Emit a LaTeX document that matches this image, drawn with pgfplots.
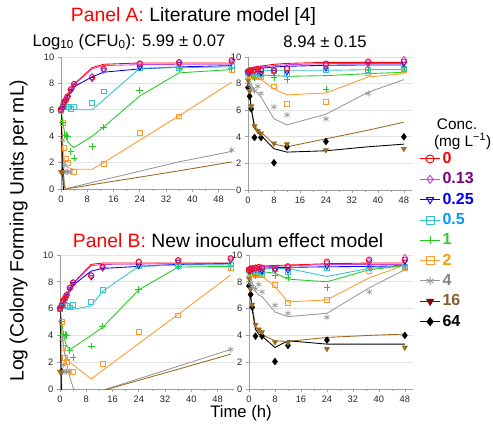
\documentclass[border=0pt]{standalone}
\usepackage{fontspec}
\setmainfont{Liberation Sans}
\setsansfont{Liberation Sans}
\usepackage{pgfplots}
\usepackage{pgfplotstable}
\pgfplotsset{compat=1.18}

\definecolor{c0}{HTML}{FF0000}
\definecolor{c013}{HTML}{CC44DD}
\definecolor{t013}{HTML}{800080}
\definecolor{c025}{HTML}{0000FF}
\definecolor{c05}{HTML}{33C4CC}
\definecolor{t05}{HTML}{0099FF}
\definecolor{c1}{HTML}{22CC22}
\definecolor{t1}{HTML}{33CC33}
\definecolor{c2}{HTML}{FF9A2E}
\definecolor{t2}{HTML}{FF9900}
\definecolor{c4}{HTML}{999999}
\definecolor{t4}{HTML}{808080}
\definecolor{c16}{HTML}{9C6A1E}
\definecolor{l16}{HTML}{7A0A0A}
\definecolor{t16}{HTML}{8B5A2B}
\definecolor{c64}{HTML}{000000}

% observed counts, inoculum 6 log
\pgfplotstableread{
t    c0   c013 c025 c05  c1   c2   c4   c16  c64
0    6.0  6.05 6.0  6.0  6.0  5.95 nan  1.3  nan
0.5  6.2  6.25 6.15 6.3  5.05 5.0  3.7  1.3  1.3
1    6.6  6.6  6.55 6.3  4.1  3.1  1.8  nan  nan
1.5  6.75 6.8  6.7  6.25 4.05 2.3  1.3  nan  nan
2    7.0  7.0  6.95 6.2  4.0  2.0  1.3  nan  nan
3    7.55 7.5  7.45 6.1  2.85 nan  1.3  nan  nan
4    7.95 7.9  7.85 6.25 2.35 1.3  nan  nan  nan
9.5  8.45 8.5  8.35 6.5  3.2  nan  nan  nan  nan
13   9.1  9.05 9.0  7.4  4.7  1.9  nan  nan  nan
24   9.5  9.45 9.2  9.15 7.45 4.25 nan  nan  nan
36   9.6  9.55 9.5  9.15 9.15 5.5  nan  nan  nan
52   9.75 9.7  9.6  9.3  9.15 9.05 2.95 nan  nan
}\obsL

% observed counts, inoculum 9 log
\pgfplotstableread{
t    c0   c013 c025 c05  c1   c2   c4   c16  c64
0    8.9  8.9  8.8  8.85 8.75 8.9  8.5  8.25 7.7
0.5  8.95 8.95 8.85 8.9  8.7  8.7  7.9  7.45 7.05
1    9.0  8.95 8.9  8.9  8.65 8.55 7.6  6.3  6.1
2    9.05 9.0  8.95 8.8  8.45 8.5  7.45 4.8  3.95
3    9.1  9.05 8.95 8.85 8.7  8.6  7.8  4.45 nan
4    9.05 9.0  8.8  8.7  8.6  8.5  7.25 4.25 3.95
8    9.0  8.95 8.9  8.95 8.45 7.8  6.25 3.5  2.05
12   9.15 9.1  8.85 8.7  8.3  6.45 5.65 3.45 3.25
24   9.5  9.4  9.15 9.0  7.6  6.65 5.35 3.0  3.65
37   9.65 9.55 9.45 9.05 9.05 8.8  7.25 nan  nan
48   9.65 9.8  9.5  9.1  9.2  9.05 9.05 3.1  4.0
}\obsR

% Panel A model, inoculum 6 log
\pgfplotstableread{
t    c0   c013 c025 c05  c1   c2   c4    c16   c64
0    6.0  6.0  6.0  6.0  6.0  6.0  6.0   6.0   6.0
0.5  6.3  6.28 6.25 6.1  5.2  3.5  2.5   2.0   1.0
1    6.6  6.55 6.5  6.1  4.4  2.2  0.4   0.2   -1
1.5  6.9  6.85 6.8  6.05 3.9  1.8  -0.1  -0.2  -1
2    7.15 7.1  7.0  6.0  3.6  1.65 0.05  0.03  -1
3    7.55 7.5  7.35 6.0  3.3  1.55 0.11  0.07  -1
4    7.95 7.9  7.75 6.0  3.15 1.5  0.17  0.1   -1
9.5  9.2  9.1  8.5  6.0  4.0  1.5  0.5   0.33  -1
13   9.45 9.35 8.85 6.76 4.7  2.0  0.7   0.47  -1
24   9.55 9.42 9.1  9.15 7.05 3.7  1.35  0.9   -1
36   9.55 9.45 9.25 9.2  8.8  5.55 2.06  1.38  -1
52   9.55 9.45 9.35 9.25 9.05 8.1  2.85  2.05  -1
}\modAL

% Panel A model, inoculum 9 log
\pgfplotstableread{
t    c0   c013 c025 c05  c1   c2   c4   c16  c64
0    8.95 8.95 8.95 8.95 8.95 8.95 8.95 8.95 8.95
0.5  9.05 9.0  8.98 8.95 8.9  8.85 8.4  7.3  7.2
1    9.1  9.05 9.0  8.95 8.85 8.75 7.9  6.2  6.1
2    9.2  9.12 9.05 8.95 8.75 8.55 7.5  4.85 4.7
3    9.28 9.2  9.1  8.95 8.7  8.4  7.25 4.55 4.3
4    9.32 9.25 9.15 8.95 8.65 8.3  7.0  4.35 4.1
8    9.45 9.35 9.25 9.0  8.6  7.6  5.35 3.45 3.1
12   9.52 9.42 9.3  9.0  8.55 7.15 4.9  3.25 2.85
24   9.6  9.5  9.38 9.0  8.6  7.3  5.7  3.85 2.95
37   9.6  9.5  9.4  9.05 8.75 8.5  7.35 4.5  3.25
48   9.6  9.5  9.4  9.05 8.85 8.75 8.3  5.1  3.45
}\modAR

% Panel B model, inoculum 6 log
\pgfplotstableread{
t    c0   c013 c025 c05  c1   c2   c4   c16   c64
0    6.0  6.0  6.0  6.0  6.0  6.0  6.0  6.0   6.0
0.5  6.25 6.25 6.2  6.1  5.0  4.5  4.3  0.2   -1
1    6.5  6.5  6.45 6.1  4.2  3.3  3.3  -2    -1
1.5  6.8  6.75 6.7  6.05 3.6  2.65 2.5 -2    -1
2    7.05 7.0  6.95 6.0  3.2  2.3  1.9  -2    -1
3    7.5  7.45 7.35 6.0  2.95 2.0  0.9  -2    -1
4    7.9  7.85 7.75 5.95 3.1  1.8  0.1  -2    -1
9.5  9.3  9.2  8.8  6.2  4.0  0.75 -2   -2    -1
13   9.4  9.3  9.0  7.3  4.6  1.39 -0.09 -0.12 -1
24   9.4  9.32 9.15 9.15 7.4  3.4  0.77 0.65  -1
36   9.4  9.35 9.3  9.25 9.1  5.57 1.7  1.48  -1
52   9.4  9.35 9.35 9.25 9.15 8.5  2.95 2.6   -1
}\modBL

% Panel B model, inoculum 9 log
\pgfplotstableread{
t    c0   c013 c025 c05  c1   c2   c4   c16  c64
0    8.95 8.95 8.95 8.95 8.95 8.95 8.95 8.95 8.95
0.5  9.0  8.98 8.95 8.95 8.93 8.85 8.4  7.0  6.8
1    9.05 9.0  8.95 8.95 8.9  8.7  7.9  6.2  5.9
2    9.1  9.05 9.0  8.95 8.85 8.5  7.3  4.7  4.45
3    9.15 9.1  9.0  8.95 8.8  8.45 7.0  4.3  4.1
4    9.18 9.12 9.02 8.95 8.75 8.4  6.9  4.05 3.95
8    9.22 9.15 9.05 8.98 8.65 7.65 5.75 3.6  3.1
12   9.25 9.2  9.08 9.0  8.2  6.5  5.4  3.55 3.6
24   9.35 9.28 9.12 8.4  8.0  6.65 5.65 3.85 3.35
37   9.4  9.3  9.15 9.0  8.9  8.3  7.55 4.0  3.35
48   9.4  9.3  9.2  9.2  9.2  9.25 8.9  4.1  3.35
}\modBR

\pgfplotsset{
  panel/.style={
    scale only axis, anchor=south west,
    xmin=0, ymin=0, ymax=10,
    axis x line*=bottom, axis y line*=left,
    axis line style={gray!75, line width=0.7pt},
    xtick={0,8,...,48}, ytick={0,2,...,10},
    minor x tick num=1, tick align=outside,
    tick style={gray!75, line width=0.5pt},
    major tick length=2.5pt, minor tick length=1.6pt,
    ymajorgrids, major grid style={gray!22, line width=0.6pt},
    tick label style={font=\fontsize{7}{8}\selectfont, text=black!85},
    /pgf/number format/assume math mode=true,
    xticklabel style={yshift=1pt}, yticklabel style={xshift=1pt},
    clip mode=individual,
  },
  mod/.style={no markers, line width=0.65pt, forget plot},
  obs/.style={only marks, forget plot, mark size=2.1pt, line width=0.55pt},
  s0/.style={color=c0, mark=o},
  s013/.style={color=c013, mark=diamond, mark size=2.6pt},
  s025/.style={color=c025, mark=triangle, mark options={rotate=180}},
  s05/.style={color=c05, mark=square, mark size=1.8pt},
  s1/.style={color=c1, mark=+, mark size=2.5pt},
  s2/.style={color=c2, mark=square, mark size=1.8pt},
  s4/.style={color=c4, mark=asterisk, mark size=2.3pt},
  s16/.style={color=c16, mark=triangle*, mark options={rotate=180}},
  s64/.style={color=c64, mark=diamond*, mark size=2.4pt},
}

\newcommand{\drawpanel}[2]{%
  \addplot[mod, c0]   table[x=t, y=c0]   {#1};
  \addplot[mod, c013] table[x=t, y=c013] {#1};
  \addplot[mod, c025] table[x=t, y=c025] {#1};
  \addplot[mod, c05]  table[x=t, y=c05]  {#1};
  \addplot[mod, c1]   table[x=t, y=c1]   {#1};
  \addplot[mod, c2]   table[x=t, y=c2]   {#1};
  \addplot[mod, c4]   table[x=t, y=c4]   {#1};
  \addplot[mod, c16]  table[x=t, y=c16]  {#1};
  \addplot[mod, c64]  table[x=t, y=c64]  {#1};
  \addplot[obs, s64]  table[x=t, y=c64]  {#2};
  \addplot[obs, s16]  table[x=t, y=c16]  {#2};
  \addplot[obs, s4]   table[x=t, y=c4]   {#2};
  \addplot[obs, s2]   table[x=t, y=c2]   {#2};
  \addplot[obs, s1]   table[x=t, y=c1]   {#2};
  \addplot[obs, s05]  table[x=t, y=c05]  {#2};
  \addplot[obs, s025] table[x=t, y=c025] {#2};
  \addplot[obs, s013] table[x=t, y=c013] {#2};
  \addplot[obs, s0]   table[x=t, y=c0]   {#2};
}

\begin{document}
\begin{tikzpicture}
\path[use as bounding box] (0,0) rectangle (369.75pt,-319.5pt);

% Panel A, inoculum 6
\begin{axis}[panel, at={(45.75pt,-141.75pt)}, width=130.5pt, height=99pt, xmax=53]
  \drawpanel{\modAL}{\obsL}
\end{axis}

% Panel A, inoculum 9 (carries the legend)
\begin{axis}[panel, at={(186pt,-142.5pt)}, width=123pt, height=99.75pt, xmax=50.5,
  legend style={draw=none, fill=none, at={(1.045,0.30)}, anchor=north west,
    font=\fontsize{12}{12}\selectfont\bfseries, row sep=2.4pt,
    inner sep=0pt, nodes={inner sep=1.5pt}},
  legend cell align=left,
  legend image code/.code={\draw[mark repeat=2, mark phase=2, line width=0.7pt, mark size=3pt]
    plot coordinates {(0pt,0pt) (7.5pt,0pt) (15pt,0pt)};}]
  \addlegendimage{s0}   \addlegendentry{\textcolor{c0}{0}}
  \addlegendimage{s013} \addlegendentry{\textcolor{t013}{0.13}}
  \addlegendimage{s025} \addlegendentry{\textcolor{c025}{0.25}}
  \addlegendimage{s05}  \addlegendentry{\textcolor{t05}{0.5}}
  \addlegendimage{s1}   \addlegendentry{\textcolor{t1}{1}}
  \addlegendimage{s2}   \addlegendentry{\textcolor{t2}{2}}
  \addlegendimage{s4}   \addlegendentry{\textcolor{t4}{4}}
  \addlegendimage{s16, color=l16} \addlegendentry{\textcolor{t16}{16}}
  \addlegendimage{s64}  \addlegendentry{\textcolor{c64}{64}}
  \drawpanel{\modAR}{\obsR}
\end{axis}

% Panel B, inoculum 6
\begin{axis}[panel, at={(45pt,-291.75pt)}, width=130.5pt, height=100.5pt, xmax=53]
  \drawpanel{\modBL}{\obsL}
\end{axis}

% Panel B, inoculum 9
\begin{axis}[panel, at={(186.75pt,-291.75pt)}, width=123pt, height=100.5pt, xmax=50.5]
  \drawpanel{\modBR}{\obsR}
\end{axis}

\node[font=\fontsize{14.5}{16}\selectfont] at (145.1pt,-12pt)
  {\textcolor{red}{Panel A:} Literature model [4]};
\node[font=\fontsize{12.5}{14}\selectfont] at (96.75pt,-31.5pt)
  {Log\textsubscript{10} (CFU\textsubscript{0}): 5.99 ± 0.07};
\node[font=\fontsize{12.5}{14}\selectfont] at (243.75pt,-31.5pt) {8.94 ± 0.15};
\node[font=\fontsize{14.5}{16}\selectfont] at (171pt,-180.75pt)
  {\textcolor{red}{Panel B:} New inoculum effect model};
\node[font=\fontsize{12.5}{14}\selectfont] at (180.75pt,-309.75pt) {Time (h)};
\node[font=\fontsize{14.5}{16}\selectfont, rotate=90] at (14pt,-173pt)
  {Log (Colony Forming Units per mL)};
\node[font=\fontsize{11.5}{13}\selectfont] at (342.75pt,-93pt) {Conc.};
\node[font=\fontsize{11.5}{13}\selectfont, anchor=west] at (322pt,-106pt) {(mg L\textsuperscript{−1})};
\end{tikzpicture}
\end{document}
